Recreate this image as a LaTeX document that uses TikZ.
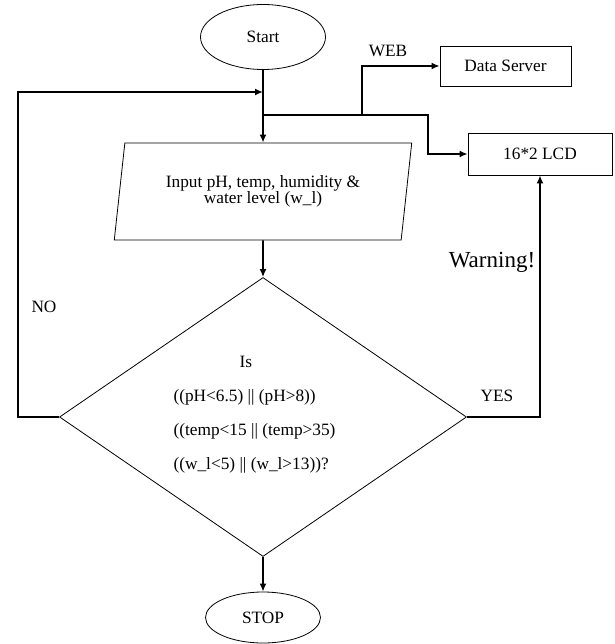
\documentclass[tikz,border=0pt]{standalone}
\usepackage{fontspec}
\setmainfont{Liberation Serif}
\usetikzlibrary{positioning,arrows.meta,shapes.geometric}

\begin{document}
\begin{tikzpicture}[x=1pt,y=-1pt]
    \tikzset{
        termstyle/.style={ellipse, draw, line width=0.8pt, inner sep=0pt},
        boxstyle/.style={rectangle, draw, line width=0.8pt, inner sep=0pt},
        linkstyle/.style={line width=1.8pt},
        arrowstyle/.style={linkstyle, -{Latex[length=8pt,width=7pt]}},
        every node/.style={font=\fontsize{17.3}{16.5}\selectfont}
    }
    \useasboundingbox (0,0) rectangle (614,644);

    % shapes
    \node[termstyle, minimum width=125pt, minimum height=65pt] (start) at (263,37) {Start};
    \node[boxstyle, minimum width=131pt, minimum height=40pt] (server) at (505.5,66) {Data Server};
    \node[boxstyle, minimum width=144pt, minimum height=42pt] (lcd) at (540,154) {16*2 LCD};
    \node[trapezium, draw, line width=0.8pt, inner sep=0pt, trapezium left angle=77,
          trapezium right angle=103, trapezium stretches=true,
          minimum width=298pt, minimum height=97pt, align=center] (input) at (263,191.5)
        {Input pH, temp, humidity \&\\ water level (w\_l)};
    \node[diamond, draw, line width=0.8pt, inner sep=0pt, shape aspect=1.46,
          minimum width=407pt, minimum height=279pt] (dec) at (263,417) {};
    \node[align=left, font=\fontsize{17.3}{34}\selectfont] (cond) at (254.5,415)
        {\hspace*{66pt}Is\\((pH<6.5) || (pH>8))\\((temp<15 || (temp>35)\\((w\_l<5) || (w\_l>13))?};
    \node[termstyle, minimum width=115pt, minimum height=51pt] (stop) at (263,617.5) {STOP};

    % labels
    \node (web) at (388,51) {WEB};
    \node (no) at (44,307) {NO};
    \node (yes) at (497,396) {YES};
    \node[font=\fontsize{23}{26}\selectfont] (warn) at (492,262) {Warning!};

    % connectors
    \coordinate (nojoin) at (263,92);
    \coordinate (split) at (263,115);
    \coordinate (webfork) at (362,115);

    \draw[arrowstyle] (start.south) -- (input.north);
    \draw[arrowstyle] (dec.west) -- ++(-41,0) |- (nojoin);
    \draw[arrowstyle] (split) -- ++(165,0) |- (lcd.west);
    \draw[arrowstyle] (webfork) |- (server.west);
    \draw[arrowstyle] (input.south) -- (dec.north);
    \draw[arrowstyle] (dec.east) -| (lcd.south);
    \draw[arrowstyle] (dec.south) -- (stop.north);

\end{tikzpicture}
\end{document}
